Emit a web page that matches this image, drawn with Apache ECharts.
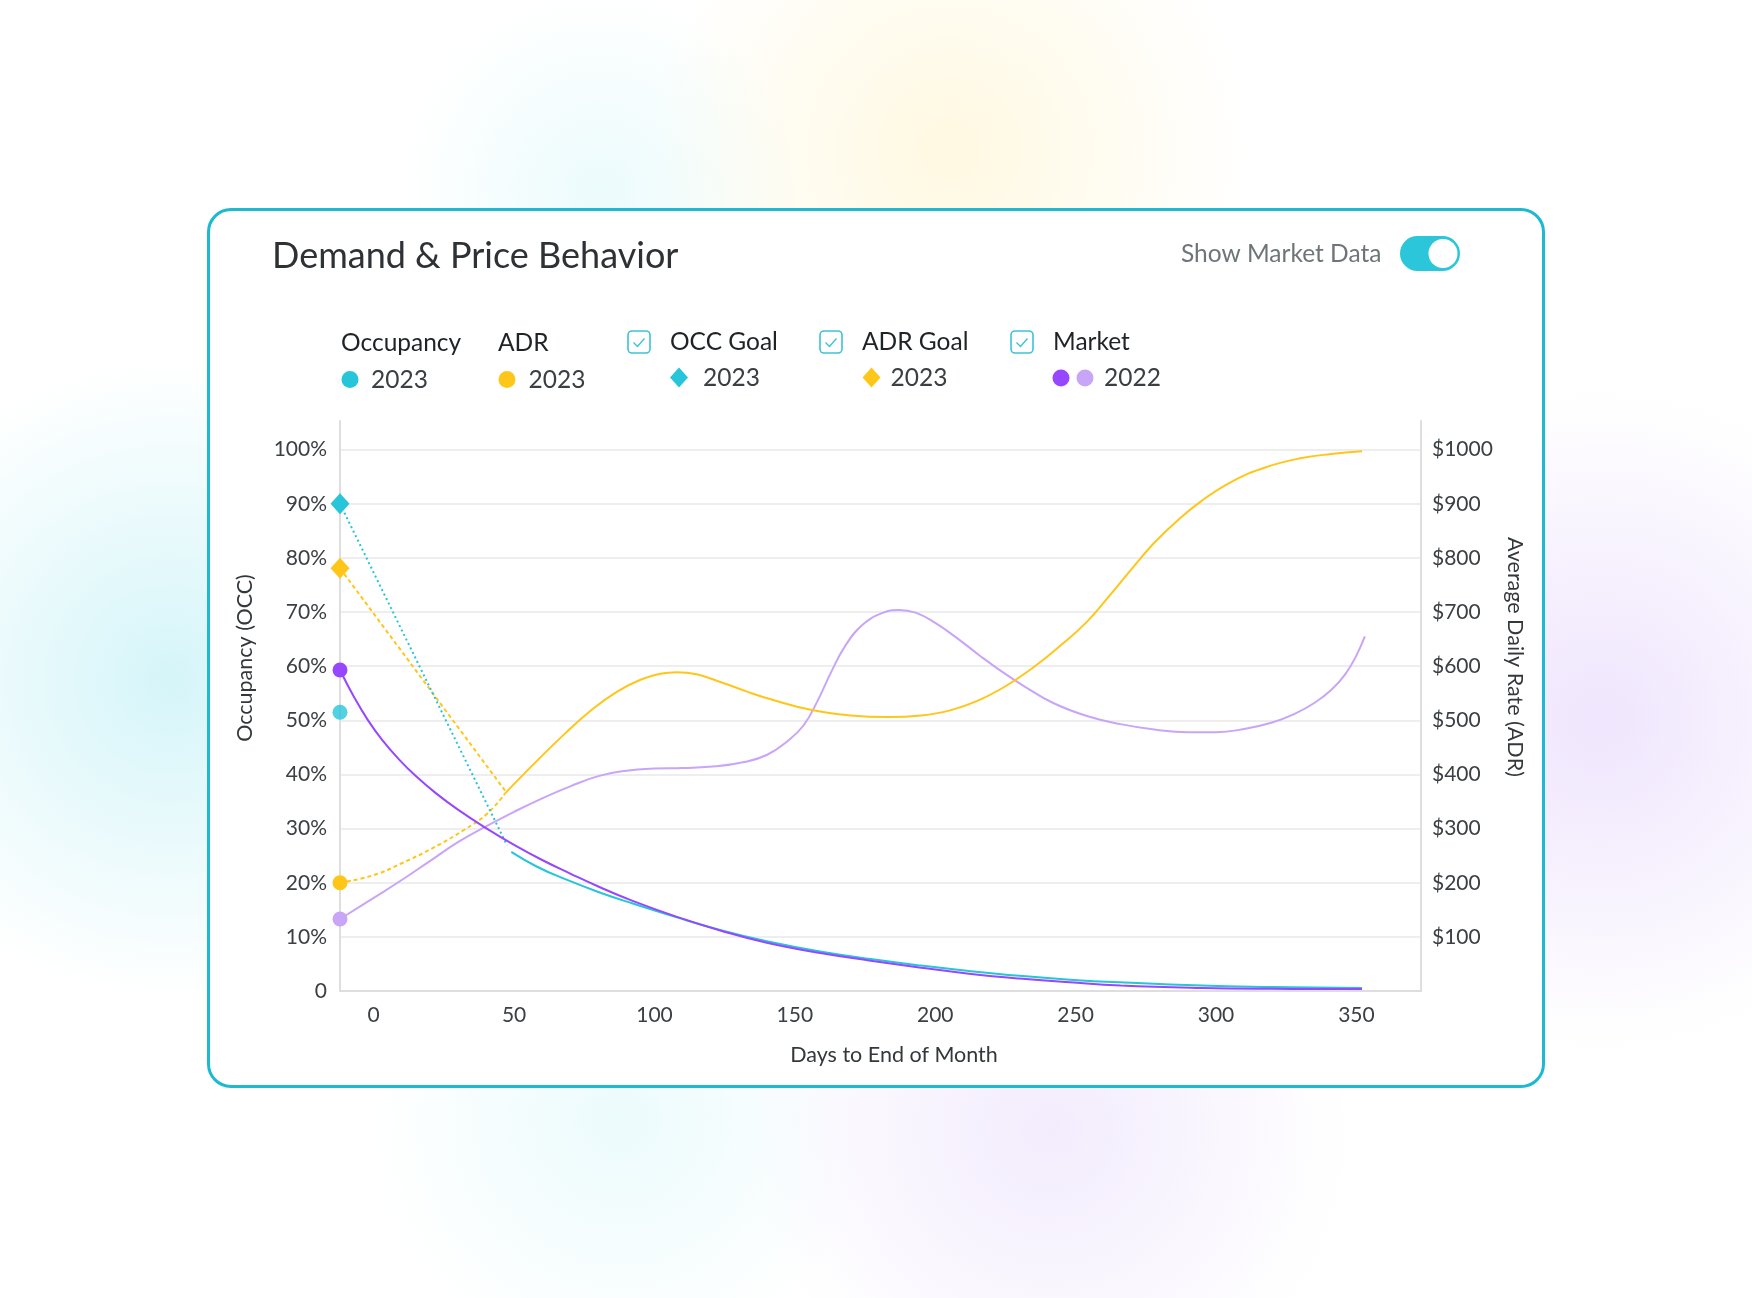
<!DOCTYPE html>
<html>
<head>
<meta charset="utf-8">
<script src="https://cdn.jsdelivr.net/npm/echarts@6/dist/echarts.min.js"></script>
<style>
html,body{margin:0;padding:0;}
body{
  width:1752px;height:1298px;position:relative;overflow:hidden;
  background:
    radial-gradient(circle at 950px 150px, rgba(255,236,170,0.35), rgba(255,255,255,0) 300px),
    radial-gradient(circle at 600px 190px, rgba(180,240,245,0.25), rgba(255,255,255,0) 200px),
    radial-gradient(circle at 170px 680px, rgba(150,230,240,0.40), rgba(255,255,255,0) 320px),
    radial-gradient(circle at 1600px 720px, rgba(215,190,250,0.40), rgba(255,255,255,0) 330px),
    radial-gradient(circle at 1050px 1130px, rgba(220,200,250,0.35), rgba(255,255,255,0) 300px),
    radial-gradient(circle at 620px 1120px, rgba(180,240,245,0.25), rgba(255,255,255,0) 250px),
    #ffffff;
}
#card{position:absolute;left:207px;top:208px;width:1338px;height:880px;box-sizing:border-box;
  border:3px solid #1cb9d1;border-radius:24px;background:#ffffff;}
#chart{position:absolute;left:0;top:0;width:1752px;height:1298px;}
</style>
</head>
<body>
<div id="card"></div>
<div id="chart"></div>
<script>
// ---------- data ----------
const xTickValues = [0, 50, 100, 150, 200, 250, 300, 350];
const occTickValues = [0, 10, 20, 30, 40, 50, 60, 70, 80, 90, 100];
const adrTickValues = [100, 200, 300, 400, 500, 600, 700, 800, 900, 1000];

// Occupancy 2023 (single point)
const occ2023Point = [[-12, 51.5]];
// OCC Goal 2023 (dotted from goal diamond, then solid curve)
const occGoalDotted = [[-12, 90], [47.5, 26.9]];
const occGoalCurve = [[49, 25.7], [58, 23.0], [68, 20.7], [80, 18.3], [92, 16.2], [108, 13.6], [124, 11.2],
  [140, 9.2], [159, 7.3], [177, 5.9], [195, 4.7], [212, 3.7], [230, 2.8], [248, 2.1], [266, 1.6],
  [295, 1.0], [320, 0.75], [352, 0.55]];
// ADR 2023 (dotted from today's point, then solid curve)
const adrDotted = [[-12, 200], [0, 214], [10, 236], [21, 264], [32, 297], [40.5, 328], [46.8, 365]];
const adrCurve = [[46.8, 365], [56, 414], [68, 475], [78, 521], [87, 554], [95, 575], [102, 586], [108, 589],
  [115, 585], [124, 570], [133, 553], [142, 538], [156, 519], [170, 509], [183, 506], [195, 509],
  [205, 518], [215, 536], [225, 563], [235, 598], [245, 640], [254, 682], [262, 730], [270, 780],
  [278, 828], [286, 868], [295, 906], [306, 942], [318, 968], [330, 984], [341, 992], [352, 997]];
// ADR Goal 2023
const adrGoalDotted = [[-12, 781], [46.8, 370]];
// Market 2022 occupancy
const marketOcc2022 = [[-12, 59.3], [-7, 54.3], [-2, 50.0], [3, 46.4], [9, 42.8], [15, 39.7], [22, 36.6],
  [30, 33.5], [40, 30.1], [50, 27.0], [60, 24.2], [70, 21.7], [80, 19.3], [92, 16.7], [108, 13.7],
  [124, 11.1], [140, 8.9], [159, 7.0], [177, 5.6], [195, 4.3], [212, 3.2], [230, 2.3], [248, 1.6],
  [266, 1.0], [295, 0.55], [320, 0.4], [352, 0.35]];
// Market 2022 ADR
const marketAdr2022 = [[-12, 133], [0, 172], [10, 205], [20, 240], [30, 275], [40, 304], [50, 331], [60, 356],
  [70, 378], [80, 397], [90, 407], [100, 411], [110, 412], [122, 415], [132, 423], [140, 436], [147, 460],
  [153, 490], [158, 535], [163, 590], [168, 638], [174, 676], [181, 698], [187, 704], [193, 699],
  [200, 680], [208, 651], [216, 619], [224, 589], [232, 562], [242, 532], [254, 508], [266, 493],
  [278, 483], [290, 478], [300, 478], [310, 484], [320, 496], [328, 512], [335, 532], [341, 556],
  [346, 585], [350, 620], [353, 655]];

// ---------- styles ----------
const C_CYAN = '#26c5d9';
const C_YELLOW = '#ffc61a';
const C_PURPLE = '#9747ff';
const C_LILAC = '#c9a5f7';
const FONT = 'Lato, "Open Sans", sans-serif';

function startMarked(points, symbol, size) {
  return points.map((p, i) => i === 0 ? { value: p, symbol: symbol, symbolSize: size } : { value: p, symbol: 'none' });
}

const chart = echarts.init(document.getElementById('chart'), null, { renderer: 'canvas' });

// legend graphics
function txt(x, y, s, size, color) {
  return { type: 'text', x: x, y: y, silent: true,
    style: { text: s, fontSize: size, fontFamily: FONT, fill: color, align: 'left', verticalAlign: 'middle' } };
}
function diamond(cx, cy, w, h, color) {
  return { type: 'polygon', silent: true,
    shape: { points: [[cx, cy - h / 2], [cx + w / 2, cy], [cx, cy + h / 2], [cx - w / 2, cy]] },
    style: { fill: color } };
}
function dot(cx, cy, r, color) {
  return { type: 'circle', silent: true, shape: { cx: cx, cy: cy, r: r }, style: { fill: color } };
}
function checkbox(x, y) {
  return [
    { type: 'rect', silent: true, shape: { x: x, y: y, width: 22, height: 22, r: 4 },
      style: { fill: '#fff', stroke: '#3cc4d6', lineWidth: 1.6 } },
    { type: 'polyline', silent: true, shape: { points: [[x + 5.5, y + 11.5], [x + 9.5, y + 15.5], [x + 16.5, y + 7.5]] },
      style: { stroke: '#3cc4d6', lineWidth: 1.4, fill: null } }
  ];
}

const HEAD = '#1f2326', YEAR = '#3a3f43';
const LG = 24.5;
const graphics = [
  txt(272, 256, 'Demand & Price Behavior', 36, '#2e3235'),
  txt(1181, 254, 'Show Market Data', 24.5, '#6d7577'),
  { type: 'rect', silent: true, shape: { x: 1400, y: 236, width: 60, height: 35, r: 17.5 }, style: { fill: '#2bc6d9' } },
  dot(1443, 253.5, 14.5, '#ffffff'),

  txt(341, 343, 'Occupancy', LG, HEAD),
  dot(350, 379.5, 8.5, C_CYAN),
  txt(371, 380, '2023', LG, YEAR),

  txt(498, 343, 'ADR', LG, HEAD),
  dot(507, 379.5, 8.5, C_YELLOW),
  txt(528.5, 380, '2023', LG, YEAR),

  ...checkbox(628, 331),
  txt(670, 342, 'OCC Goal', LG, HEAD),
  diamond(679, 377.5, 18, 20, C_CYAN),
  txt(703, 378, '2023', LG, YEAR),

  ...checkbox(820, 331),
  txt(862, 342, 'ADR Goal', LG, HEAD),
  diamond(871.5, 377.5, 18, 20, C_YELLOW),
  txt(890.5, 378, '2023', LG, YEAR),

  ...checkbox(1011, 331),
  txt(1053, 342, 'Market', LG, HEAD),
  dot(1061, 378, 8.5, C_PURPLE),
  dot(1085, 378, 8.5, C_LILAC),
  txt(1104, 378, '2022', LG, YEAR)
];

const axisLabelStyle = { color: '#3b4044', fontSize: 21, fontFamily: FONT };
const axisNameStyle = { color: '#33383b', fontSize: 21.5, fontFamily: FONT };

const option = {
  animation: false,
  backgroundColor: 'transparent',
  textStyle: { fontFamily: FONT },
  graphic: graphics,
  grid: { left: 340, right: 331, top: 421, bottom: 307, containLabel: false },
  xAxis: {
    type: 'value', min: -12, max: 373, splitNumber: 8, minInterval: 50, maxInterval: 50,
    axisLine: { show: true, onZero: false, lineStyle: { color: '#dedede', width: 2 } },
    axisTick: { show: false },
    splitLine: { show: false },
    axisLabel: Object.assign({ margin: 14, formatter: v => xTickValues.includes(v) ? String(v) : '' }, axisLabelStyle),
    name: 'Days to End of Month', nameLocation: 'middle', nameGap: 53,
    nameTextStyle: Object.assign({ padding: [0, 0, 0, 27] }, axisNameStyle)
  },
  yAxis: [
    {
      type: 'value', position: 'left', min: 0, max: 105.3, interval: 10,
      axisLine: { show: true, onZero: false, lineStyle: { color: '#dedede', width: 2 } },
      axisTick: { show: false },
      splitLine: { show: true, showMaxLine: false, lineStyle: { color: '#e8e8e8', width: 1.5 } },
      axisLabel: Object.assign({ margin: 13, formatter: v => occTickValues.includes(v) ? (v === 0 ? '0' : v + '%') : '' }, axisLabelStyle),
      name: 'Occupancy (OCC)', nameLocation: 'middle', nameGap: 84,
      nameTextStyle: Object.assign({ padding: [0, 0, 0, 96] }, axisNameStyle)
    },
    {
      type: 'value', position: 'right', min: 0, max: 1053, interval: 100,
      axisLine: { show: true, onZero: false, lineStyle: { color: '#dedede', width: 2 } },
      axisTick: { show: false },
      splitLine: { show: false },
      axisLabel: Object.assign({ margin: 11, formatter: v => adrTickValues.includes(v) ? '$' + v : '' }, axisLabelStyle),
      name: 'Average Daily Rate (ADR)', nameLocation: 'middle', nameGap: 75, nameRotate: -90,
      nameTextStyle: Object.assign({ padding: [0, 98, 0, 0] }, axisNameStyle)
    }
  ],
  series: [
    { name: 'Market 2022 ADR', type: 'line', yAxisIndex: 1, smooth: 0.45, clip: false, silent: true,
      data: startMarked(marketAdr2022, 'circle', 15),
      itemStyle: { color: C_LILAC }, lineStyle: { color: C_LILAC, width: 2 }, z: 3 },
    { name: 'ADR 2023 (to date)', type: 'line', yAxisIndex: 1, smooth: 0.45, clip: false, silent: true,
      data: startMarked(adrDotted, 'circle', 15),
      itemStyle: { color: C_YELLOW }, lineStyle: { color: C_YELLOW, width: 2, type: [4, 3] }, z: 4 },
    { name: 'ADR 2023', type: 'line', yAxisIndex: 1, smooth: 0.45, clip: false, silent: true, symbol: 'none',
      data: adrCurve, lineStyle: { color: C_YELLOW, width: 2 }, z: 3 },
    { name: 'ADR Goal 2023', type: 'line', yAxisIndex: 1, clip: false, silent: true,
      data: startMarked(adrGoalDotted, 'diamond', [19, 21]),
      itemStyle: { color: C_YELLOW }, lineStyle: { color: C_YELLOW, width: 2, type: [4, 3] }, z: 4 },
    { name: 'OCC Goal 2023 curve', type: 'line', yAxisIndex: 0, smooth: 0.45, clip: false, silent: true, symbol: 'none',
      data: occGoalCurve, lineStyle: { color: C_CYAN, width: 2 }, z: 3 },
    { name: 'OCC Goal 2023', type: 'line', yAxisIndex: 0, clip: false, silent: true,
      data: startMarked(occGoalDotted, 'diamond', [19, 21]),
      itemStyle: { color: C_CYAN }, lineStyle: { color: C_CYAN, width: 2, type: [2, 3] }, z: 4 },
    { name: 'Market 2022 Occupancy', type: 'line', yAxisIndex: 0, smooth: 0.45, clip: false, silent: true,
      data: startMarked(marketOcc2022, 'circle', 15),
      itemStyle: { color: C_PURPLE }, lineStyle: { color: C_PURPLE, width: 2 }, z: 5 },
    { name: 'Occupancy 2023', type: 'scatter', yAxisIndex: 0, silent: true, symbol: 'circle', symbolSize: 15,
      data: occ2023Point, itemStyle: { color: C_CYAN }, z: 6 }
  ]
};
chart.setOption(option);
</script>
</body>
</html>
